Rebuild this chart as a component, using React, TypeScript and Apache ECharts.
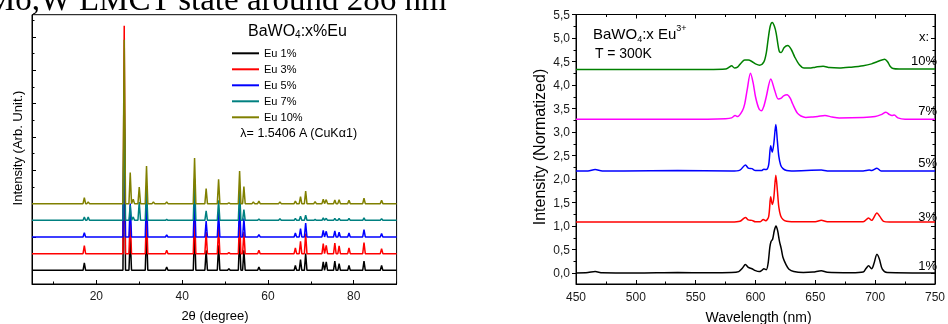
import React, { useEffect, useRef } from 'react';
import * as echarts from 'echarts';

// ---------- Left panel: XRD patterns (peak position in 2θ, peak height above each trace's baseline) ----------
const xrdPositions = [17.2, 18.1, 26.5, 27.9, 28.6, 30.0, 31.7, 33.3, 36.4, 42.9, 45.6, 48.5, 50.9, 53.4, 54.4, 56.6, 57.9, 62.8, 66.4, 67.6, 68.8, 71.0, 72.9, 73.6, 75.6, 76.6, 78.9, 82.4, 86.5];
const xrdEu1 = [0.44, 0, 9.0, 2.0, 0, 0, 2.4, 0, 0.2, 2.5, 1.2, 1.5, 0.1, 2.0, 1.2, 0, 0.2, 0, 0.3, 0.64, 1.0, 0, 0.5, 0.5, 0.56, 0.4, 0.3, 0.56, 0.3];
const xrdEu3 = [0.48, 0, 13.66, 2.2, 0, 0, 2.5, 0, 0.2, 2.6, 1.3, 1.6, 0.06, 2.2, 1.3, 0, 0.2, 0, 0.34, 0.74, 1.2, 0, 0.6, 0.5, 0.64, 0.46, 0.34, 0.66, 0.3];
const xrdEu5 = [0.26, 0, 7.0, 2.0, 0, 0, 2.5, 0, 0.12, 2.5, 0.96, 1.5, 0, 2.0, 1.1, 0, 0.14, 0, 0.24, 0.5, 0.84, 0, 0.4, 0.34, 0.36, 0.28, 0.24, 0.44, 0.2];
const xrdEu7 = [0.2, 0.2, 7.0, 0.9, 0.2, 1.1, 2.0, 0, 0.05, 2.5, 0.56, 1.2, 0, 1.8, 0.64, 0, 0.08, 0.1, 0.12, 0.25, 0.3, 0.05, 0.15, 0.12, 0.12, 0.12, 0.12, 0.15, 0.1];
const xrdEu10 = [0.36, 0.1, 9.82, 1.86, 0.26, 1.0, 2.26, 0.1, 0.1, 2.74, 0.9, 1.46, 0.05, 1.96, 1.02, 0.1, 0.15, 0.1, 0.16, 0.42, 0.76, 0.12, 0.26, 0.24, 0.22, 0.24, 0.2, 0.32, 0.2];
const xrdHeights = [xrdEu1, xrdEu3, xrdEu5, xrdEu7, xrdEu10];
const xrdNames = ['Eu 1%', 'Eu 3%', 'Eu 5%', 'Eu 7%', 'Eu 10%'];
const xrdOffsets = [0, 1, 2, 3, 4];
const xrdXLabels = [20, 40, 60, 80];
const xrdXMinor = [10, 30, 50, 70, 90];
const xrdYMajor = [0, 2, 4, 6, 8, 10, 12, 14];
const xrdYMinor = [1, 3, 5, 7, 9, 11, 13, 15];

// ---------- Right panel: PL spectra [wavelength nm, normalized intensity (offset)] ----------
const pl1 = [[450, 0], [460, 0.01], [466, 0.03], [472, 0.005], [500, 0.0], [535, 0.01], [560, 0.005], [580, 0.01], [586, 0.03], [589, 0.1], [591.6, 0.18], [594, 0.12], [597, 0.09], [600, 0.05], [603, 0.03], [605.5, 0.06], [607, 0.09], [609, 0.07], [610.5, 0.2], [612, 0.55], [613, 0.67], [614.3, 0.72], [615.7, 0.9], [617.1, 1.0], [618.5, 0.9], [620, 0.68], [621.5, 0.52], [623, 0.33], [625.5, 0.18], [628, 0.08], [632, 0.03], [640, 0.01], [648, 0.02], [655, 0.05], [660, 0.015], [680, 0.005], [690, 0.02], [692.5, 0.1], [694.5, 0.155], [697, 0.09], [699, 0.2], [701.5, 0.4], [703.5, 0.3], [706, 0.08], [710, 0.01], [750, 0]];
const pl3 = [[450, 1.085], [500, 1.085], [580, 1.085], [587, 1.1], [591.6, 1.18], [594, 1.13], [597, 1.12], [600, 1.09], [604, 1.09], [606.5, 1.14], [608.5, 1.11], [611, 1.2], [612.7, 1.62], [614, 1.46], [615.3, 1.6], [617, 2.08], [618.3, 1.75], [619.5, 1.4], [621, 1.22], [623, 1.14], [626, 1.1], [630, 1.09], [650, 1.09], [655, 1.12], [660, 1.09], [690, 1.09], [694.5, 1.17], [697, 1.12], [701.5, 1.277], [704, 1.2], [707, 1.1], [712, 1.085], [750, 1.085]];
const pl5 = [[450, 2.17], [460, 2.17], [466, 2.2], [472, 2.17], [490, 2.17], [535, 2.18], [580, 2.17], [587, 2.19], [591.6, 2.3], [594, 2.23], [597, 2.22], [600, 2.18], [605, 2.18], [607, 2.21], [609, 2.2], [611, 2.3], [612.7, 2.71], [614, 2.57], [615.3, 2.75], [617, 3.16], [618.3, 2.8], [619.5, 2.48], [621, 2.3], [623, 2.22], [626, 2.18], [630, 2.17], [655, 2.19], [660, 2.17], [690, 2.17], [695, 2.19], [697, 2.18], [701.5, 2.23], [705, 2.17], [750, 2.17]];
const pl7 = [[450, 3.27], [500, 3.27], [560, 3.27], [575, 3.28], [580, 3.3], [583, 3.35], [585, 3.33], [589, 3.45], [591, 3.6], [593, 3.89], [595.8, 4.25], [598, 4.05], [600, 3.75], [602.8, 3.5], [605, 3.45], [607, 3.55], [609, 3.75], [612.8, 4.13], [616, 3.89], [619, 3.7], [621.5, 3.72], [623.5, 3.77], [626.4, 3.79], [629, 3.72], [631, 3.6], [635, 3.4], [638, 3.34], [642, 3.31], [648, 3.32], [652, 3.33], [658, 3.35], [664, 3.32], [670, 3.3], [690, 3.31], [700, 3.33], [705, 3.37], [709, 3.42], [712, 3.37], [714, 3.35], [716, 3.36], [719, 3.3], [725, 3.27], [750, 3.27]];
const pl10 = [[450, 4.33], [500, 4.33], [560, 4.33], [575, 4.34], [578, 4.38], [580, 4.41], [582.5, 4.36], [585, 4.38], [588, 4.47], [591, 4.53], [594, 4.53], [597, 4.5], [600, 4.45], [603.5, 4.42], [607, 4.49], [609, 4.68], [610.5, 4.96], [612.3, 5.25], [614, 5.33], [615.8, 5.25], [617.3, 5.1], [619, 4.82], [620, 4.71], [621.5, 4.69], [624, 4.8], [627, 4.84], [630, 4.75], [632.7, 4.6], [636.7, 4.43], [640.6, 4.36], [645, 4.36], [650, 4.38], [656.5, 4.4], [662, 4.37], [670, 4.36], [680, 4.38], [690, 4.41], [697, 4.45], [702, 4.5], [708, 4.55], [710.5, 4.49], [712.5, 4.4], [715, 4.35], [720, 4.34], [750, 4.34]];
const plSeries = [pl1, pl3, pl5, pl7, pl10];
const plNames = ['1%', '3%', '5%', '7%', '10%'];
const plYLabels = [0, 0.5, 1, 1.5, 2, 2.5, 3, 3.5, 4, 4.5, 5, 5.5];
const plYMinor = [0.25, 0.75, 1.25, 1.75, 2.25, 2.75, 3.25, 3.75, 4.25, 4.75, 5.25];

// ---------- styling ----------
const xrdColors = ['#000000', '#ff0000', '#0000ff', '#008080', '#808000'];
const plColors = ['#000000', '#ff0000', '#0000ff', '#ff00ff', '#008000'];
const sans = '"Liberation Sans", Arial, sans-serif';
const serif = '"Liberation Serif", "Times New Roman", serif';
const peakHalfWidth = 0.3;

function buildXrd(heights: number[], offset: number): number[][] {
  const pts: number[][] = [[5, offset]];
  xrdPositions.forEach((p, i) => {
    const h = heights[i];
    if (h > 0) {
      pts.push([p - peakHalfWidth, offset], [p, offset + h], [p + peakHalfWidth, offset]);
    }
  });
  pts.push([90, offset]);
  return pts;
}

const noLabel = { show: false };
const blackLine = { lineStyle: { color: '#000', width: 1 } };

function text(x: number, y: number, t: string, size: number, extra: any = {}) {
  return {
    type: 'text',
    x,
    y,
    silent: true,
    rotation: extra.rotation || 0,
    style: {
      text: t,
      fontSize: size,
      fontFamily: extra.fontFamily || sans,
      fill: '#000',
      align: extra.align || 'left',
      verticalAlign: 'middle',
    },
  };
}

export default function App() {
  const ref = useRef<HTMLDivElement>(null);
  useEffect(() => {
    if (!ref.current) return;
    const chart = echarts.init(ref.current, undefined, { renderer: 'svg' });

    const leftSeries = xrdNames.map((name, i) => ({
      name,
      type: 'line',
      xAxisIndex: 0,
      yAxisIndex: 0,
      symbol: 'none',
      showSymbol: false,
      silent: true,
      lineStyle: { color: xrdColors[i], width: 1.5 },
      itemStyle: { color: xrdColors[i] },
      data: buildXrd(xrdHeights[i], xrdOffsets[i]),
    }));

    const rightSeries = plNames.map((name, i) => ({
      name,
      type: 'line',
      xAxisIndex: 2,
      yAxisIndex: 2,
      symbol: 'none',
      showSymbol: false,
      silent: true,
      smooth: 0.3,
      lineStyle: { color: plColors[i], width: 1.5 },
      itemStyle: { color: plColors[i] },
      data: plSeries[i],
    }));

    const labelStyle = { fontSize: 12, fontFamily: sans, color: '#1a1a1a' };

    const option: any = {
      animation: false,
      grid: [
        { left: 32, top: 14.7, width: 364.6, height: 269.3, show: true, borderColor: '#000', borderWidth: 1, containLabel: false },
        { left: 576, top: 14.5, width: 365.7, height: 269.5, show: true, borderColor: '#000', borderWidth: 1, containLabel: false },
      ],
      legend: {
        data: xrdNames,
        orient: 'vertical',
        left: 232,
        top: 47.8,
        itemWidth: 27,
        itemHeight: 2,
        itemGap: 5,
        icon: 'rect',
        padding: 0,
        selectedMode: false,
        textStyle: { fontSize: 11, lineHeight: 11, fontFamily: sans, color: '#000' },
      },
      xAxis: [
        {
          gridIndex: 0, type: 'value', min: 5, max: 90, position: 'bottom',
          axisLine: { show: true, onZero: false, ...blackLine },
          axisTick: { show: true, inside: true, length: 4, customValues: xrdXLabels, ...blackLine },
          axisLabel: { show: true, customValues: xrdXLabels, margin: 6, ...labelStyle },
          splitLine: { show: false },
        },
        {
          gridIndex: 0, type: 'value', min: 5, max: 90, position: 'bottom',
          axisLine: { show: false, onZero: false },
          axisTick: { show: true, inside: true, length: 2.5, customValues: xrdXMinor, ...blackLine },
          axisLabel: noLabel,
          splitLine: { show: false },
        },
        {
          gridIndex: 1, type: 'value', min: 450, max: 750, interval: 50, position: 'bottom',
          axisLine: { show: true, onZero: false, ...blackLine },
          axisTick: { show: true, inside: true, length: 4, ...blackLine },
          minorTick: { show: true, splitNumber: 2, length: 2.5, lineStyle: { color: '#000', width: 1 } },
          axisLabel: { show: true, margin: 7, ...labelStyle },
          splitLine: { show: false },
        },
        {
          gridIndex: 1, type: 'value', min: 450, max: 750, interval: 50, position: 'top',
          axisLine: { show: true, onZero: false, ...blackLine },
          axisTick: { show: true, inside: true, length: 4, ...blackLine },
          minorTick: { show: true, splitNumber: 2, length: 2.5, lineStyle: { color: '#000', width: 1 } },
          axisLabel: noLabel,
          splitLine: { show: false },
        },
      ],
      yAxis: [
        {
          gridIndex: 0, type: 'value', min: -0.82, max: 15.33, position: 'left',
          axisLine: { show: true, onZero: false, ...blackLine },
          axisTick: { show: true, inside: true, length: 4, customValues: xrdYMajor, ...blackLine },
          axisLabel: noLabel,
          splitLine: { show: false },
        },
        {
          gridIndex: 0, type: 'value', min: -0.82, max: 15.33, position: 'left',
          axisLine: { show: false, onZero: false },
          axisTick: { show: true, inside: true, length: 2.5, customValues: xrdYMinor, ...blackLine },
          axisLabel: noLabel,
          splitLine: { show: false },
        },
        {
          gridIndex: 1, type: 'value', min: -0.234, max: 5.5, position: 'left',
          axisLine: { show: true, onZero: false, ...blackLine },
          axisTick: { show: true, inside: false, length: 4, customValues: plYLabels, ...blackLine },
          axisLabel: {
            show: true, customValues: plYLabels, margin: 6, ...labelStyle,
            formatter: (v: number) => v.toFixed(1).replace('.', ','),
          },
          splitLine: { show: false },
        },
        {
          gridIndex: 1, type: 'value', min: -0.234, max: 5.5, position: 'left',
          axisLine: { show: false, onZero: false },
          axisTick: { show: true, inside: false, length: 2.5, customValues: plYMinor, ...blackLine },
          axisLabel: noLabel,
          splitLine: { show: false },
        },
        {
          gridIndex: 1, type: 'value', min: -0.234, max: 5.5, position: 'right',
          axisLine: { show: true, onZero: false, ...blackLine },
          axisTick: { show: true, inside: true, length: 4, customValues: plYLabels, ...blackLine },
          axisLabel: noLabel,
          splitLine: { show: false },
        },
        {
          gridIndex: 1, type: 'value', min: -0.234, max: 5.5, position: 'right',
          axisLine: { show: false, onZero: false },
          axisTick: { show: true, inside: true, length: 2.5, customValues: plYMinor, ...blackLine },
          axisLabel: noLabel,
          splitLine: { show: false },
        },
      ],
      series: [...leftSeries, ...rightSeries],
      graphic: [
        text(-14, -1, 'Mo,W LMCT state around 286 nm', 33, { fontFamily: serif }),
        // left panel
        text(17, 148, 'Intensity (Arb. Unit.)', 13, { rotation: Math.PI / 2, align: 'center' }),
        text(215, 315, '2θ (degree)', 13, { align: 'center' }),
        {
          type: 'text', x: 248, y: 30, silent: true,
          style: {
            text: '{m|BaWO}{s|4}{m|:x%Eu}',
            align: 'left', verticalAlign: 'middle', fill: '#000',
            rich: {
              m: { fontSize: 16, lineHeight: 18, fontFamily: sans, verticalAlign: 'middle', fill: '#000' },
              s: { fontSize: 10, lineHeight: 8, fontFamily: sans, verticalAlign: 'bottom', fill: '#000' },
            },
          },
        },
        text(298.7, 132.7, 'λ= 1.5406 A (CuKα1)', 12.5, { align: 'center' }),
        // right panel
        text(539, 147, 'Intensity (Normatized)', 16, { rotation: Math.PI / 2, align: 'center' }),
        text(758.5, 317, 'Wavelength (nm)', 14, { align: 'center' }),
        {
          type: 'text', x: 593, y: 33.7, silent: true,
          style: {
            text: '{m|BaWO}{s|4}{m|:x Eu}{p|3+}',
            align: 'left', verticalAlign: 'middle', fill: '#000',
            rich: {
              m: { fontSize: 15, lineHeight: 20, fontFamily: sans, verticalAlign: 'middle', fill: '#000' },
              s: { fontSize: 9, lineHeight: 8, fontFamily: sans, verticalAlign: 'bottom', fill: '#000' },
              p: { fontSize: 9, lineHeight: 8, fontFamily: sans, verticalAlign: 'top', fill: '#000' },
            },
          },
        },
        text(595, 53.3, 'T = 300K', 14),
        text(929, 36, 'x:', 13, { align: 'right' }),
        text(937, 60, '10%', 13, { align: 'right' }),
        text(937, 110, '7%', 13, { align: 'right' }),
        text(937, 162.7, '5%', 13, { align: 'right' }),
        text(937, 216, '3%', 13, { align: 'right' }),
        text(937, 265, '1%', 13, { align: 'right' }),
      ],
    };

    chart.setOption(option);
    return () => chart.dispose();
  }, []);

  return <div ref={ref} style={{ position: 'fixed', left: 0, top: 0, width: 948, height: 324 }} />;
}
